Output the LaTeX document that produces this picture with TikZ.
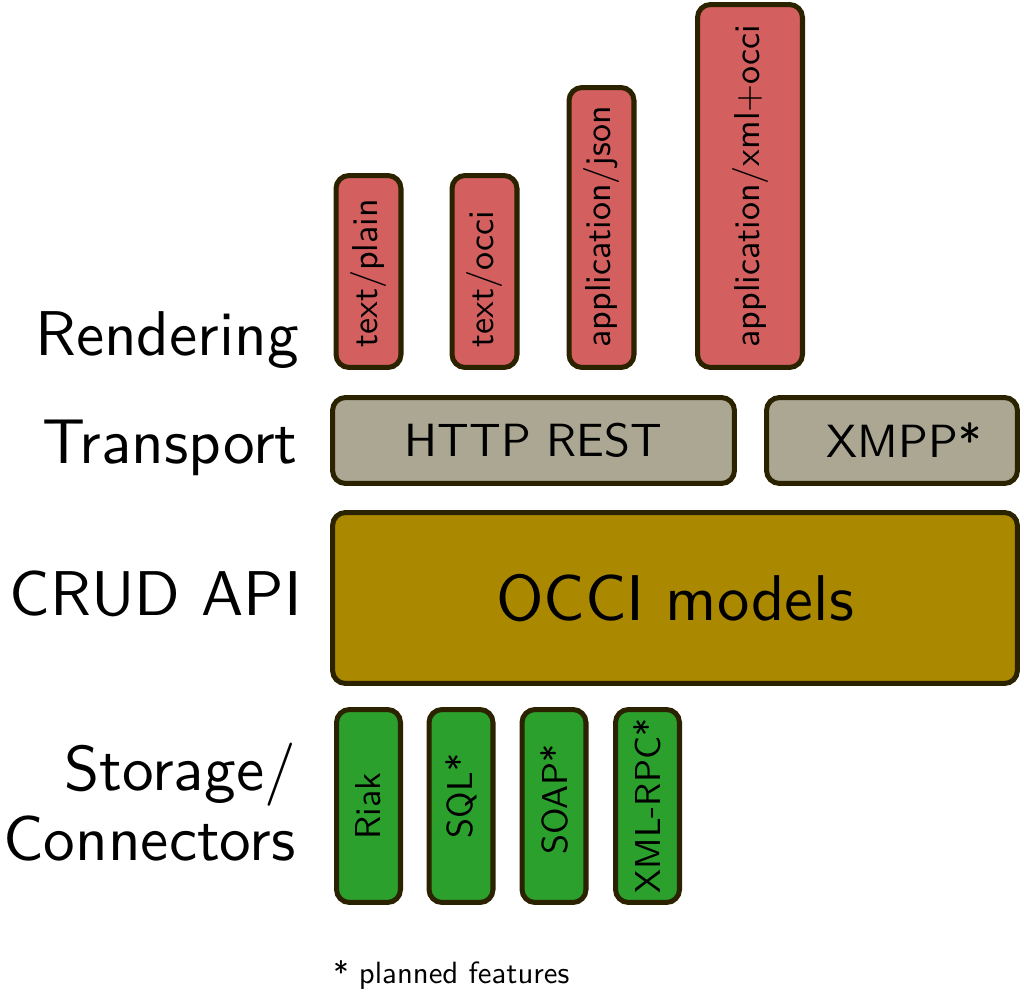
\documentclass[tikz,border=0pt]{standalone}
\usepackage{fontspec}
\setsansfont{lmsans10-regular.otf}
\usetikzlibrary{positioning}
\hyphenpenalty=10000
\definecolor{rendercol}{HTML}{D35F5F}
\definecolor{transportcol}{HTML}{ACA793}
\definecolor{crudcol}{HTML}{AA8800}
\definecolor{storagecol}{HTML}{2CA02C}
\definecolor{edgecol}{HTML}{2B2200}
\tikzset{
    x=0.02cm,
    y=-0.02cm,
    layer/.style = {
        draw=edgecol,
        shape=rectangle,
        line width=2.85pt,
        rounded corners=0.26cm,
        inner sep=0pt
    },
    mime/.style = {
        layer,
        fill=rendercol,
        rotate=90,
        minimum height=1.30cm,
        inner xsep=0.4cm,
        align=left,
        font=\sffamily\fontsize{20.5}{24}\selectfont
    },
    transport/.style = {
        layer,
        fill=transportcol,
        minimum height=1.72cm,
        font=\sffamily\fontsize{26.5}{30}\selectfont
    },
    crud/.style = {
        layer,
        fill=crudcol,
        font=\sffamily\fontsize{36.8}{42}\selectfont
    },
    connector/.style = {
        layer,
        fill=storagecol,
        rotate=90,
        minimum width=3.86cm,
        minimum height=1.28cm,
        font=\sffamily\fontsize{20.5}{24}\selectfont
    },
    layername/.style = {
        anchor=base east,
        inner sep=0pt,
        font=\sffamily\fontsize{36}{40}\selectfont
    },
}

\begin{document}
\begin{tikzpicture}
            \useasboundingbox (0,0) rectangle (1024,993);

            % rendering
            \node[mime, minimum width=3.84cm, text width=3.04cm] (textplain) at (368.5,271.5) {text/plain};
            \node[mime, minimum width=3.84cm, text width=3.04cm] (textocci) at (484.5,271.5) {text/occi};
            \node[mime, minimum width=5.6cm, text width=4.8cm] (appjson) at (601.5,227.5) {application/json};
            \node[mime, minimum width=7.26cm, text width=6.46cm, minimum height=2.1cm] (appxml) at (750,186) {application/xml+occi};

            % transport
            \node[transport, minimum width=8.04cm] (http) at (533.5,440.5) {HTTP REST};
            \node[transport, minimum width=5.02cm] (xmpp) at (892,440.5) {\kern0.48cm XMPP*};

            % crud api
            \node[crud, minimum width=13.7cm, minimum height=3.42cm] (occi) at (675,598) {OCCI models};

            % storage
            \node[connector] (riak) at (368.5,806) {Riak};
            \node[connector] (sql) at (461,806) {\kern0.4cm SQL*};
            \node[connector] (soap) at (554,806) {\kern0.26cm SOAP*};
            \node[connector] (xmlrpc) at (647.5,806) {XML-RPC*};

            % layer names
            \node[layername] (renderingname) at (299,355) {Rendering};
            \node[layername] (transportname) at (298,463) {Transport};
            \node[layername] (crudname) at (302,615) {CRUD API};
            \node[layername, anchor=east, align=right] (storagename) at (296,802) {Storage/\\Connectors};

            \node[anchor=base west, inner sep=0pt, font=\sffamily\fontsize{17.5}{20}\selectfont] (note) at (333,983) {* planned features};

        \end{tikzpicture}
\end{document}
